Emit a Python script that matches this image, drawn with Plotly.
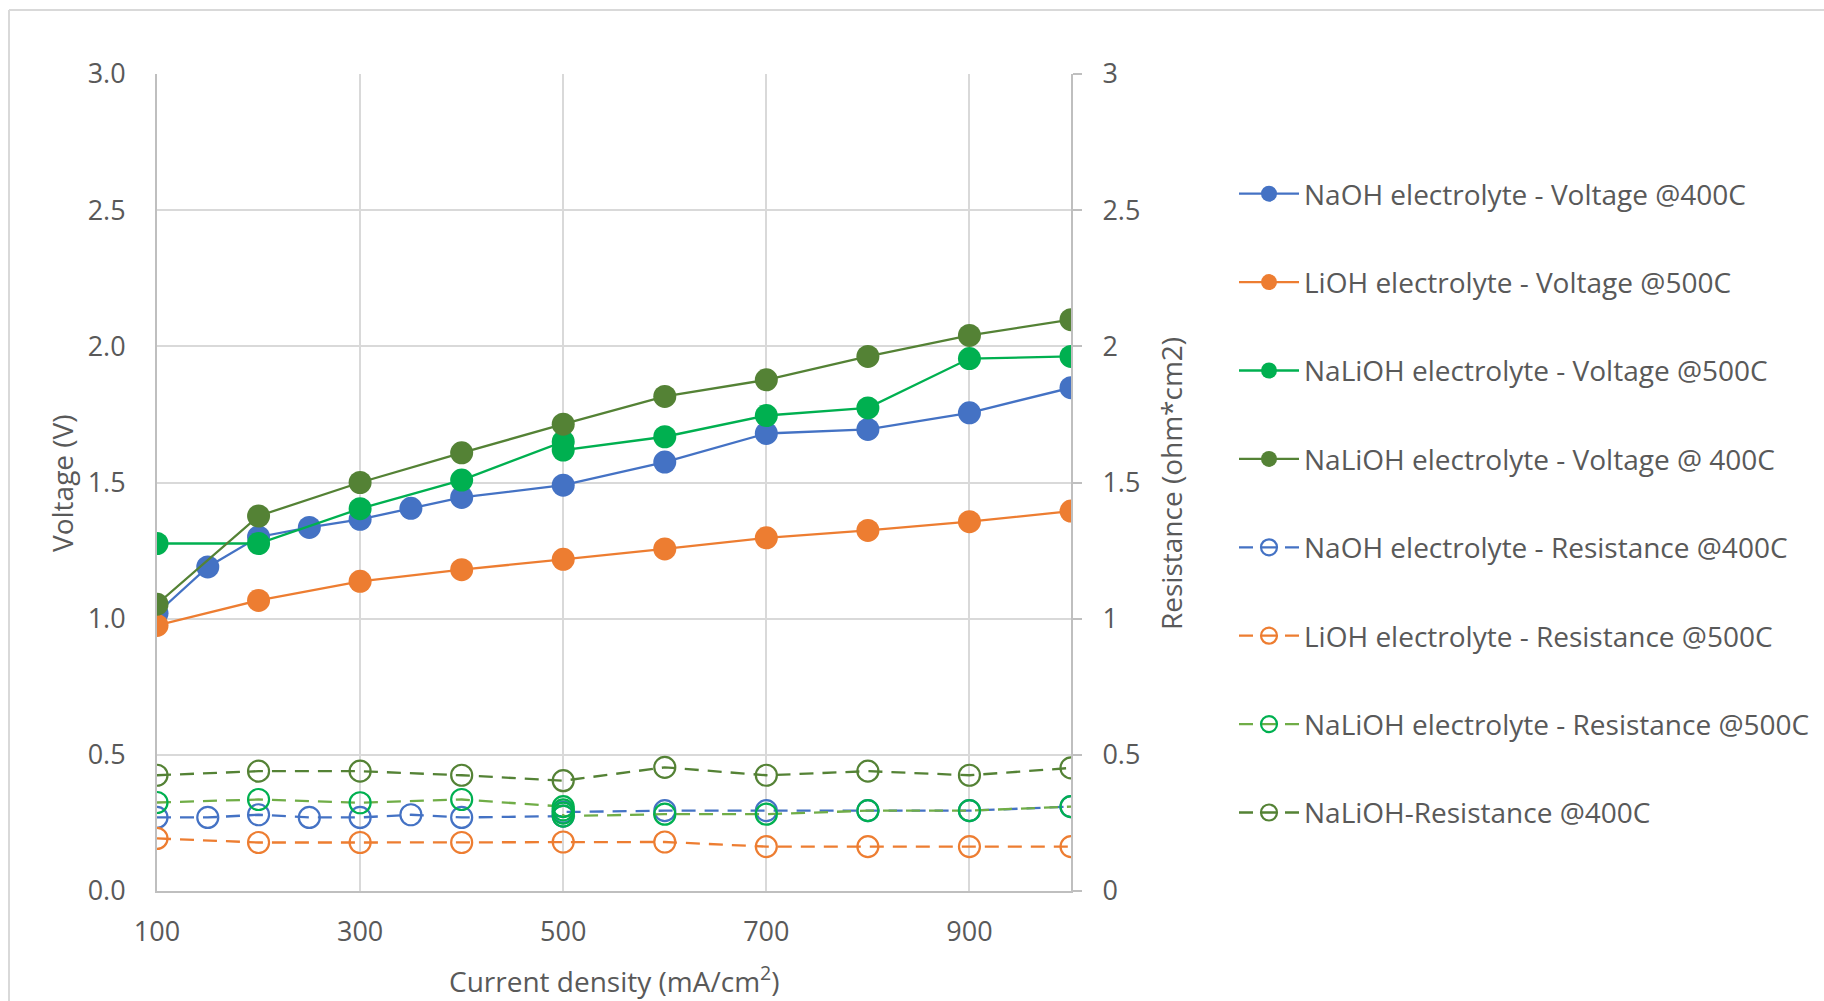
import plotly.graph_objects as go

# ---------------- data ----------------
x_naoh = [100, 150, 200, 250, 300, 350, 400, 500, 600, 700, 800, 900, 1000]
naoh_voltage = [1.02, 1.19, 1.30, 1.335, 1.365, 1.405, 1.445, 1.49, 1.575, 1.68, 1.695, 1.756, 1.848]

x_lioh = [100, 200, 300, 400, 500, 600, 700, 800, 900, 1000]
lioh_voltage = [0.975, 1.067, 1.137, 1.18, 1.218, 1.256, 1.297, 1.324, 1.356, 1.395]

x_nalioh500_v = [100, 200, 300, 400, 500, 500, 600, 700, 800, 900, 1000]
nalioh500_voltage = [1.276, 1.276, 1.404, 1.509, 1.65, 1.619, 1.668, 1.746, 1.774, 1.955, 1.963]

x_nalioh400 = [100, 200, 300, 400, 500, 600, 700, 800, 900, 1000]
nalioh400_voltage = [1.053, 1.377, 1.50, 1.609, 1.714, 1.816, 1.877, 1.963, 2.04, 2.098]

naoh_resistance_x = [100, 150, 200, 250, 300, 350, 400, 500, 500, 600, 700, 800, 900, 1000]
naoh_resistance = [0.27, 0.27, 0.28, 0.27, 0.27, 0.28, 0.27, 0.275, 0.29, 0.295, 0.295, 0.295, 0.295, 0.31]

lioh_resistance_x = [100, 200, 300, 400, 500, 600, 700, 800, 900, 1000]
lioh_resistance = [0.193, 0.178, 0.178, 0.178, 0.18, 0.18, 0.163, 0.163, 0.163, 0.163]

nalioh500_resistance_x = [100, 200, 300, 400, 500, 500, 500, 500, 600, 700, 800, 900, 1000]
nalioh500_resistance = [0.325, 0.336, 0.324, 0.336, 0.31, 0.298, 0.286, 0.275, 0.282, 0.282, 0.295, 0.295, 0.31]

nalioh400_resistance_x = [100, 200, 300, 400, 500, 600, 700, 800, 900, 1000]
nalioh400_resistance = [0.425, 0.44, 0.44, 0.425, 0.405, 0.454, 0.425, 0.44, 0.425, 0.452]

x_tick_vals = [100, 300, 500, 700, 900]
y_tick_vals = [0, 0.5, 1.0, 1.5, 2.0, 2.5, 3.0]
y2_tick_text = ["0", "0.5", "1", "1.5", "2", "2.5", "3"]

names = [
    "NaOH electrolyte - Voltage @400C",
    "LiOH electrolyte - Voltage @500C",
    "NaLiOH electrolyte - Voltage @500C",
    "NaLiOH electrolyte - Voltage @ 400C",
    "NaOH electrolyte - Resistance @400C",
    "LiOH electrolyte - Resistance @500C",
    "NaLiOH electrolyte - Resistance @500C",
    "NaLiOH-Resistance @400C",
]

BLUE = "#4472C4"
ORANGE = "#ED7D31"
GREEN = "#00B050"
DKGREEN = "#548235"
LTGREEN = "#70AD47"
TEXT = "#595959"
GRID = "#D9D9D9"
AXIS = "#BFBFBF"
FONT = "Open Sans"

# ---------------- figure geometry (page pixels; body margin removed) ----------------
W, H = 1824, 1001
L, R, T, B = 157, 1071, 74, 891
PW, PH = R - L, B - T


def px_x(p):
    return (p - L) / PW


def px_y(p):
    return (B - p) / PH


fig = go.Figure()

voltage_series = [
    (x_naoh, naoh_voltage, BLUE),
    (x_lioh, lioh_voltage, ORANGE),
    (x_nalioh500_v, nalioh500_voltage, GREEN),
    (x_nalioh400, nalioh400_voltage, DKGREEN),
]
for i, (xs, ys, c) in enumerate(voltage_series):
    fig.add_trace(go.Scatter(
        x=xs, y=ys, name=names[i], mode="lines+markers", legendgroup=f"g{i}",
        line=dict(color=c, width=2.3),
        marker=dict(symbol="circle", size=23, color=c, line=dict(width=0)),
        yaxis="y",
    ))

res_series = [
    (naoh_resistance_x, naoh_resistance, BLUE, BLUE),
    (lioh_resistance_x, lioh_resistance, ORANGE, ORANGE),
    (nalioh500_resistance_x, nalioh500_resistance, LTGREEN, GREEN),
    (nalioh400_resistance_x, nalioh400_resistance, DKGREEN, DKGREEN),
]
for j, (xs, ys, lc, mc) in enumerate(res_series):
    i = j + 4
    fig.add_trace(go.Scatter(
        x=xs, y=ys, name=names[i], mode="lines+markers", legendgroup=f"g{i}",
        line=dict(color=lc, width=2.3, dash="14px,9px"),
        marker=dict(symbol="circle-open", size=21, color=mc, line=dict(width=2.2, color=mc)),
        yaxis="y2",
    ))

fig.update_layout(
    width=W, height=H,
    margin=dict(l=L, r=W - R, t=T, b=H - B, pad=0, autoexpand=False),
    paper_bgcolor="white", plot_bgcolor="white",
    font=dict(family=FONT, size=28, color=TEXT),
    showlegend=True,
    legend=dict(
        x=px_x(1234), xanchor="left",
        y=px_y(169), yanchor="top",
        font=dict(family=FONT, size=28, color=TEXT),
        tracegroupgap=49,
        itemwidth=60,
        bgcolor="rgba(0,0,0,0)",
    ),
    xaxis=dict(
        range=[100, 1000], tickvals=x_tick_vals, ticktext=[str(v) for v in x_tick_vals],
        showgrid=True, gridcolor=GRID, gridwidth=2,
        showline=True, linecolor=AXIS, linewidth=2,
        ticks="", ticklabelstandoff=16, zeroline=False,
        tickfont=dict(family=FONT, size=27, color=TEXT),
    ),
    yaxis=dict(
        range=[0, 3], tickvals=y_tick_vals, tickformat=".1f",
        showgrid=True, gridcolor=GRID, gridwidth=2,
        showline=True, linecolor=AXIS, linewidth=2,
        ticks="", ticklabelstandoff=24, zeroline=False,
        tickfont=dict(family=FONT, size=27, color=TEXT),
    ),
    yaxis2=dict(
        range=[0, 3], tickvals=y_tick_vals, ticktext=y2_tick_text,
        overlaying="y", side="right", anchor="x",
        showgrid=False, showline=True, linecolor=AXIS, linewidth=2,
        ticks="outside", ticklen=9, tickwidth=2, tickcolor=AXIS,
        ticklabelstandoff=15, zeroline=False,
        tickfont=dict(family=FONT, size=27, color=TEXT),
    ),
)

# axis titles
fig.add_annotation(text="Voltage (V)", xref="paper", yref="paper",
                   x=px_x(62), y=px_y(483), textangle=-90, showarrow=False,
                   xanchor="center", yanchor="middle",
                   font=dict(family=FONT, size=28, color=TEXT))
fig.add_annotation(text="Resistance (ohm*cm2)", xref="paper", yref="paper",
                   x=px_x(1171), y=px_y(484), textangle=-90, showarrow=False,
                   xanchor="center", yanchor="middle",
                   font=dict(family=FONT, size=28, color=TEXT))
fig.add_annotation(text="Current density (mA/cm<sup>2</sup>)", xref="paper", yref="paper",
                   x=px_x(614), y=px_y(979), showarrow=False,
                   xanchor="center", yanchor="middle",
                   font=dict(family=FONT, size=28, color=TEXT))

# outer chart frame (left and top edges visible)
fig.add_shape(type="line", xref="paper", yref="paper",
              x0=px_x(9), x1=px_x(9), y0=px_y(10), y1=px_y(1001),
              line=dict(color=GRID, width=2))
fig.add_shape(type="line", xref="paper", yref="paper",
              x0=px_x(9), x1=px_x(1824), y0=px_y(10), y1=px_y(10),
              line=dict(color=GRID, width=2))

fig.write_html(
    "out.html",
    config={"displayModeBar": False},
    post_script="document.body.style.margin='0';document.body.style.overflow='hidden';",
)
